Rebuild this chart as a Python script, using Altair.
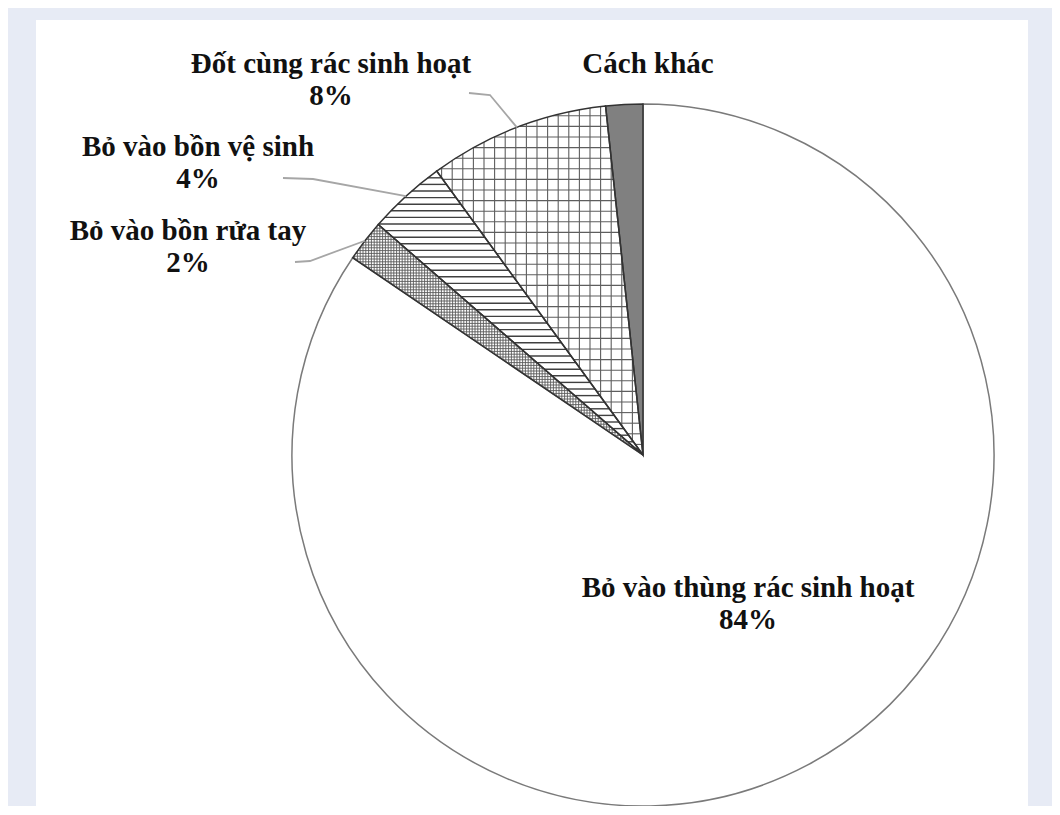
import math
import altair as alt
import pandas as pd

# ---------------- data ----------------
categories = [
    "Bỏ vào thùng rác sinh hoạt",
    "Bỏ vào bồn rửa tay",
    "Bỏ vào bồn vệ sinh",
    "Đốt cùng rác sinh hoạt",
    "Cách khác",
]
shares = [84.5, 1.9, 3.6, 8.3, 1.7]          # slice sizes measured on the picture
pct_labels = ["84%", "2%", "4%", "8%", ""]    # printed percentages

# ---------------- styling / layout ----------------
fills = ["#ffffff", "#ffffff", "#ffffff", "#ffffff", "#808080"]
strokes = ["#7a7a7a", "#333333", "#333333", "#333333", "#333333"]
patterns = [None, ("grid", 2.8, "#5a5a5a", 0.9), ("hlines", 6.6, "#404040", 1.4),
            ("grid", 10.6, "#5e5e5e", 1.1), None]

W_TOTAL, H_TOTAL = 1044, 798
PAD_L, PAD_T, PAD_R, PAD_B = 28, 12, 24, 0
W = W_TOTAL - PAD_L - PAD_R
H = H_TOTAL - PAD_T - PAD_B
OX, OY = 8 + PAD_L, 8 + PAD_T          # page position of plot origin
CX, CY, R = 607, 435, 351              # pie centre / radius in plot pixels

# label anchors (page pixels: centre x, first baseline y)
label_pos = [(748, 597), (188, 240), (198, 156), (331, 73), (648, 73)]
# leader line label-side points (page pixels); edge point comes from the data
leader_pts = {1: [(295, 262), (310, 261)], 2: [(283, 178), (313, 179)], 3: [(469, 93), (490, 95)]}


def to_unit(px, py):
    return ((px - OX - CX) / R, (CY - (py - OY)) / R)


xs = alt.Scale(domain=[-1, 1], range=[CX - R, CX + R])
ys = alt.Scale(domain=[-1, 1], range=[CY + R, CY - R])

total = sum(shares)
bounds = []
acc = 0.0
for s in shares:
    t0 = acc / total * 2 * math.pi
    acc += s
    t1 = acc / total * 2 * math.pi
    bounds.append((t0, t1))


def clip(a, u, t0, t1):
    lo, hi = -3.0, 3.0
    d0 = (math.sin(t0), math.cos(t0))
    d1 = (math.sin(t1), math.cos(t1))

    def cr(d, v):
        return d[0] * v[1] - d[1] * v[0]

    for d, sg in ((d0, 1), (d1, -1)):
        c0 = sg * cr(d, a)
        c1 = sg * cr(d, u)
        if abs(c1) < 1e-12:
            if c0 > 0:
                return None
        elif c1 > 0:
            hi = min(hi, -c0 / c1)
        else:
            lo = max(lo, -c0 / c1)
    A = u[0] ** 2 + u[1] ** 2
    B = 2 * (a[0] * u[0] + a[1] * u[1])
    C = a[0] ** 2 + a[1] ** 2 - 1
    disc = B * B - 4 * A * C
    if disc <= 0:
        return None
    sq = math.sqrt(disc)
    lo = max(lo, (-B - sq) / (2 * A))
    hi = min(hi, (-B + sq) / (2 * A))
    if hi - lo < 1e-4:
        return None
    return (a[0] + lo * u[0], a[1] + lo * u[1], a[0] + hi * u[0], a[1] + hi * u[1])


pat_rows = []
for i, p in enumerate(patterns):
    if p is None:
        continue
    kind, sp, col, w = p
    t0, t1 = bounds[i]
    step = sp / R
    n = int(1 / step) + 2
    dirs = [((0.0, 1.0), (1.0, 0.0))]  # horizontal lines
    if kind == "grid":
        dirs.append(((1.0, 0.0), (0.0, 1.0)))  # vertical lines
    for off, u in dirs:
        for k in range(-n, n + 1):
            a = (off[0] * k * step, off[1] * k * step)
            seg = clip(a, u, t0, t1)
            if seg:
                pat_rows.append({"x": seg[0], "y": seg[1], "x2": seg[2], "y2": seg[3],
                                 "color": col, "w": w})
pat_df = pd.DataFrame(pat_rows)

pie_df = pd.DataFrame({
    "cat": categories, "share": shares, "order": list(range(len(shares))),
    "fill": fills, "stroke": strokes,
})

lead_rows = []
for i, pts in leader_pts.items():
    t0, t1 = bounds[i]
    tm = (t0 + t1) / 2
    seq = [to_unit(*pt) for pt in pts] + [(math.sin(tm), math.cos(tm))]
    for j, (ux, uy) in enumerate(seq):
        lead_rows.append({"g": i, "j": j, "x": ux, "y": uy})
lead_df = pd.DataFrame(lead_rows)

lab_rows = []
for i, (px, py) in enumerate(label_pos):
    ux, uy = to_unit(px, py)
    txt = categories[i] + ("\n" + pct_labels[i] if pct_labels[i] else "")
    lab_rows.append({"x": ux, "y": uy, "t": txt})
lab_df = pd.DataFrame(lab_rows)

arcs = alt.Chart(pie_df).mark_arc(radius=R, x=CX, y=CY, strokeWidth=0).encode(
    theta=alt.Theta("share:Q", stack=True),
    order=alt.Order("order:Q"),
    fill=alt.Fill("fill:N", scale=None),
)

hatch = alt.Chart(pat_df).mark_rule(strokeCap="butt").encode(
    x=alt.X("x:Q", scale=xs, axis=None),
    y=alt.Y("y:Q", scale=ys, axis=None),
    x2="x2:Q",
    y2="y2:Q",
    stroke=alt.Stroke("color:N", scale=None),
    strokeWidth=alt.StrokeWidth("w:Q", scale=None),
)

outline = alt.Chart(pie_df).mark_arc(radius=R, x=CX, y=CY, fillOpacity=0, strokeWidth=1.5,
                                     strokeJoin="miter").encode(
    theta=alt.Theta("share:Q", stack=True),
    order=alt.Order("order:Q"),
    stroke=alt.Stroke("stroke:N", scale=None),
)

leaders = alt.Chart(lead_df).mark_line(color="#a6a6a6", strokeWidth=1.8).encode(
    x=alt.X("x:Q", scale=xs, axis=None),
    y=alt.Y("y:Q", scale=ys, axis=None),
    detail="g:N",
    order="j:Q",
)

labels = alt.Chart(lab_df).mark_text(
    font="Liberation Serif", fontWeight="bold", fontSize=29, lineHeight=32,
    align="center", baseline="alphabetic", color="#111111", lineBreak="\n",
).encode(
    x=alt.X("x:Q", scale=xs, axis=None),
    y=alt.Y("y:Q", scale=ys, axis=None),
    text="t:N",
)

chart = alt.layer(arcs, hatch, outline, leaders, labels).properties(
    width=W, height=H, autosize="none", background="#e7ebf5",
    padding={"left": PAD_L, "top": PAD_T, "right": PAD_R, "bottom": PAD_B},
).configure_view(fill="white", strokeWidth=0)

chart.save("out.html", embed_options={"renderer": "svg", "actions": False})
